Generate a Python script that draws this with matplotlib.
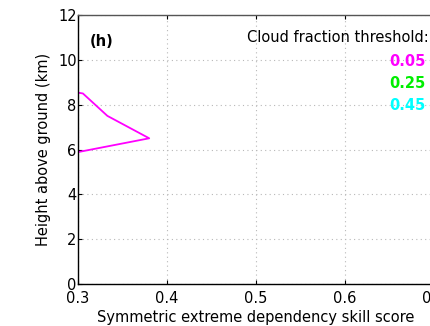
#!/usr/bin/env python3

import matplotlib
matplotlib.use('Agg')
from matplotlib import pyplot as plt

# SEDS profile, cloud fraction threshold 0.05 (only visible part of the panel)
height_km = [5.5, 6.5, 7.5, 8.5, 9.5]
seds_005 = [0.25, 0.38, 0.333, 0.3055, 0.15]

thresholds = ['0.05', '0.25', '0.45']
threshold_colors = ['#ff00ff', '#00ee00', '#00ffff']

xticks = [0.3, 0.4, 0.5, 0.6, 0.7]
yticks = [0, 2, 4, 6, 8, 10, 12]

plt.rcParams['font.family'] = ['DejaVu Sans']
plt.rcParams['font.size'] = 10.5

fig = plt.figure(figsize=(4.3, 3.26), dpi=100)
# the panel was cut out of a wider figure, so the axes run just past the right edge
ax = fig.add_axes([0.1814, 0.1288, 0.828, 0.8252])

ax.plot(seds_005, height_km, color=threshold_colors[0], lw=1.3)

ax.set_xlim(0.3, 0.7)
ax.set_ylim(0, 12)
ax.set_xticks(xticks)
ax.set_yticks(yticks)
ax.grid(True, linestyle=(0, (1, 3)), color='#b8b8b8', lw=0.8)
ax.tick_params(direction='in', length=3, top=True, right=True, width=0.8, pad=1)
ax.tick_params(axis='x', pad=5)
for s in ax.spines.values():
	s.set_linewidth(1.0)
ax.spines['top'].set_color('#555555')

ax.set_xlabel('Symmetric extreme dependency skill score', labelpad=3)
ax.set_ylabel('Height above ground (km)', labelpad=5)

ax.text(0.3135, 10.8, '(h)', fontweight='bold', va='center', ha='left')
ax.text(0.6935, 10.98, 'Cloud fraction threshold:', va='center', ha='right')
for i, (lab, col) in enumerate(zip(thresholds, threshold_colors)):
	ax.text(0.6905, 9.93 - i * 0.98, lab, color=col, fontweight='bold',
		va='center', ha='right')

fig.savefig('out.png', dpi=100)
